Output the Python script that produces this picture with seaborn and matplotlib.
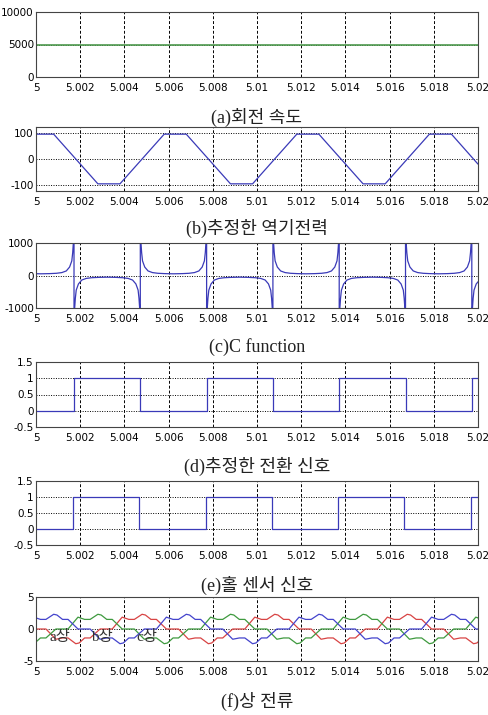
import numpy as np
import pandas as pd
import matplotlib
matplotlib.use("Agg")
import matplotlib.pyplot as plt
import seaborn as sns

# ---------------- data ----------------
x_ticks = [5.0, 5.002, 5.004, 5.006, 5.008, 5.01, 5.012, 5.014, 5.016, 5.018, 5.02]
x_tick_labels = ["5", "5.002", "5.004", "5.006", "5.008", "5.01", "5.012",
                 "5.014", "5.016", "5.018", "5.02"]

titles = ["(a)회전 속도", "(b)추정한 역기전력", "(c)C function",
          "(d)추정한 전환 신호", "(e)홀 센서 신호", "(f)상 전류"]

# (a) rotor speed
speed_t = [5.0, 5.02]
speed_v = [5000, 5000]
speed_yticks = [0, 5000, 10000]

# (b) estimated back-EMF (trapezoid corner points)
bemf_t = [5.0, 5.0008, 5.0028, 5.0038, 5.0058, 5.0068, 5.0088, 5.0098,
          5.0118, 5.0128, 5.0148, 5.0158, 5.0178, 5.0188, 5.02]
bemf_v = [97, 97, -97, -97, 97, 97, -97, -97, 97, 97, -97, -97, 97, 97, -20]
bemf_yticks = [-100, 0, 100]

# (c) C function: pole positions, sign of each branch, branch profile
cfun_poles = [5.00172, 5.00472, 5.00772, 5.01072, 5.01372, 5.01672, 5.01972]
cfun_signs = [1, -1, 1, -1, 1, -1, 1, -1]
cfun_d_ms = [0.0, 0.03, 0.06, 0.1, 0.2, 0.35, 0.55, 0.8, 1.1, 1.5]
cfun_mag = [1500, 1000, 700, 450, 260, 140, 90, 68, 58, 52]
cfun_yticks = [-1000, 0, 1000]

# (d) estimated commutation signal edges, (e) hall sensor edges
switch_edges = [5.00172, 5.00472, 5.00772, 5.01072, 5.01372, 5.01672, 5.01972]
hall_edges = [5.00166, 5.00466, 5.00768, 5.01066, 5.01367, 5.01665, 5.0197]
step_yticks = [-0.5, 0, 0.5, 1, 1.5]
step_ytick_labels = ["-0.5", "0", "0.5", "1", "1.5"]

# (f) phase currents: commutation instants and conducting phase order
pos_comm = [5.0019, 5.0039, 5.0059, 5.0079, 5.0099, 5.0119, 5.0139, 5.0159, 5.0179, 5.0199]
pos_order = ["blue", "green", "red", "blue", "green", "red", "blue", "green", "red", "blue", "green"]
neg_comm = [5.0009, 5.0029, 5.0049, 5.0069, 5.0089, 5.0109, 5.0129, 5.0149, 5.0169, 5.0189]
neg_order = ["green", "red", "blue", "green", "red", "blue", "green", "red", "blue", "green", "red"]
cur_plateau = [1.5, -1.4]
cur_peak = [2.3, -2.3]
cur_start = [1.85, -1.6]
cur_yticks = [-5, 0, 5]
phase_labels = ["a상", "b상", "c상"]
phase_label_t = [5.0011, 5.0030, 5.0050]
phase_label_v = [-1.3, -1.3, -1.3]

# ---------------- style ----------------
sns.set_theme(style="white")
plt.rcParams["font.family"] = ["Liberation Sans Narrow", "DejaVu Sans Condensed", "DejaVu Sans"]
TITLE_FONT = ["Liberation Serif", "Noto Sans CJK KR"]
LABEL_FONT = ["Liberation Serif", "Noto Sans CJK KR"]
BLUE = "#3a3ab8"
colors = {"blue": "#4444cc", "green": "#3f9a3f", "red": "#d84444"}

W, H = 489, 715
fig = plt.figure(figsize=(W / 100, H / 100), dpi=100)
fig.patch.set_facecolor("white")

left_px, right_px = 36, 478
panel_px = [(12, 77), (127, 191), (243, 308), (362, 427), (481, 545), (597, 661)]
title_y_px = [117, 228, 347, 466, 585, 701]

axes = []
for top, bot in panel_px:
    ax = fig.add_axes([left_px / W, 1 - bot / H, (right_px - left_px) / W, (bot - top) / H])
    axes.append(ax)


def style_axis(ax, yticks, ylim, ylabels=None):
    ax.set_xlim(5.0, 5.02)
    ax.set_ylim(*ylim)
    ax.set_xticks(x_ticks)
    ax.set_xticklabels(x_tick_labels)
    ax.set_yticks(yticks)
    ax.set_yticklabels(ylabels if ylabels is not None else [str(v) for v in yticks])
    ax.tick_params(axis="both", labelsize=7.5, colors="black", length=2,
                   direction="in", width=0.6)
    ax.tick_params(axis="x", pad=4)
    ax.tick_params(axis="y", pad=1.5)
    ax.xaxis.grid(True, linestyle=(0, (3, 2)), color="black", linewidth=0.7)
    ax.yaxis.grid(True, linestyle=(0, (1, 1.5)), color="black", linewidth=0.7)
    ax.set_axisbelow(True)
    for sp in ax.spines.values():
        sp.set_color("#444444")
        sp.set_linewidth(0.8)
    ax.set_xlabel("")
    ax.set_ylabel("")


def step_series(edges):
    ts, vs = [5.0], [0]
    cur = 0
    for e in edges:
        ts.append(e); vs.append(cur)
        cur = 1 - cur
        ts.append(e); vs.append(cur)
    ts.append(5.02); vs.append(cur)
    return pd.DataFrame({"t": ts, "v": vs})


# (a)
sns.lineplot(x=speed_t, y=speed_v, ax=axes[0], color="#4e9a4e", linewidth=1.2)
style_axis(axes[0], speed_yticks, (0, 10000))

# (b)
sns.lineplot(x=bemf_t, y=bemf_v, ax=axes[1], color=BLUE, linewidth=0.9,
             estimator=None, sort=False)
style_axis(axes[1], bemf_yticks, (-125, 125))

# (c)
bounds = [cfun_poles[0] - 0.003] + cfun_poles + [cfun_poles[-1] + 0.003]
ct, cv = [], []
for i, sgn in enumerate(cfun_signs):
    a, b = bounds[i], bounds[i + 1]
    seg_t = [a + d * 1e-3 for d in cfun_d_ms] + [b - d * 1e-3 for d in reversed(cfun_d_ms)]
    seg_v = [sgn * m for m in cfun_mag] + [sgn * m for m in reversed(cfun_mag)]
    for t, v in zip(seg_t, seg_v):
        if 4.9995 <= t <= 5.0205:
            ct.append(t); cv.append(v)
cdf = pd.DataFrame({"t": ct, "v": cv})
sns.lineplot(data=cdf, x="t", y="v", ax=axes[2], color=BLUE, linewidth=0.9,
             estimator=None, sort=False)
style_axis(axes[2], cfun_yticks, (-1000, 1000))

# (d)
sns.lineplot(data=step_series(switch_edges), x="t", y="v", ax=axes[3], color=BLUE,
             linewidth=0.9, estimator=None, sort=False)
style_axis(axes[3], step_yticks, (-0.5, 1.5), step_ytick_labels)

# (e)
sns.lineplot(data=step_series(hall_edges), x="t", y="v", ax=axes[4], color=BLUE,
             linewidth=0.9, estimator=None, sort=False)
style_axis(axes[4], step_yticks, (-0.5, 1.5), step_ytick_labels)


# (f)
def phase_intervals(name):
    out = []
    bp = [pos_comm[0] - 0.002] + pos_comm + [pos_comm[-1] + 0.002]
    for i, ph in enumerate(pos_order):
        if ph == name:
            out.append((bp[i], bp[i + 1], 0))
    bn = [neg_comm[0] - 0.002] + neg_comm + [neg_comm[-1] + 0.002]
    for i, ph in enumerate(neg_order):
        if ph == name:
            out.append((bn[i], bn[i + 1], 1))
    return sorted(out)


frames = []
for name in ["red", "green", "blue"]:
    ts, vs = [4.996], [0.0]
    for s, e, k in phase_intervals(name):
        m = s + 0.001
        pl, pk, st = cur_plateau[k], cur_peak[k], cur_start[k]
        pts = [(s - 0.00045, 0.0), (s, st), (s + 0.0003, pl),
               (m - 0.00045, pl), (m - 0.0001, pk), (m + 0.00005, pk * 0.95),
               (m + 0.0003, pl), (e - 0.00045, pl), (e, 0.0)]
        for t, v in pts:
            ts.append(t); vs.append(v)
    ts.append(5.024); vs.append(0.0)
    frames.append(pd.DataFrame({"t": ts, "v": vs, "phase": name}))
cur_df = pd.concat(frames, ignore_index=True)
sns.lineplot(data=cur_df, x="t", y="v", hue="phase", palette=colors, ax=axes[5],
             linewidth=0.9, estimator=None, sort=False, legend=False)
style_axis(axes[5], cur_yticks, (-5, 5))
for lab, t, v in zip(phase_labels, phase_label_t, phase_label_v):
    axes[5].text(t, v, lab, ha="center", va="center", fontsize=11,
                 family=LABEL_FONT, color="#333333")

# titles
for txt, yc in zip(titles, title_y_px):
    fig.text((left_px + right_px) / 2 / W, 1 - yc / H, txt, ha="center", va="center",
             fontsize=13, family=TITLE_FONT, color="#222222")

fig.savefig("out.png", dpi=100, facecolor="white")
